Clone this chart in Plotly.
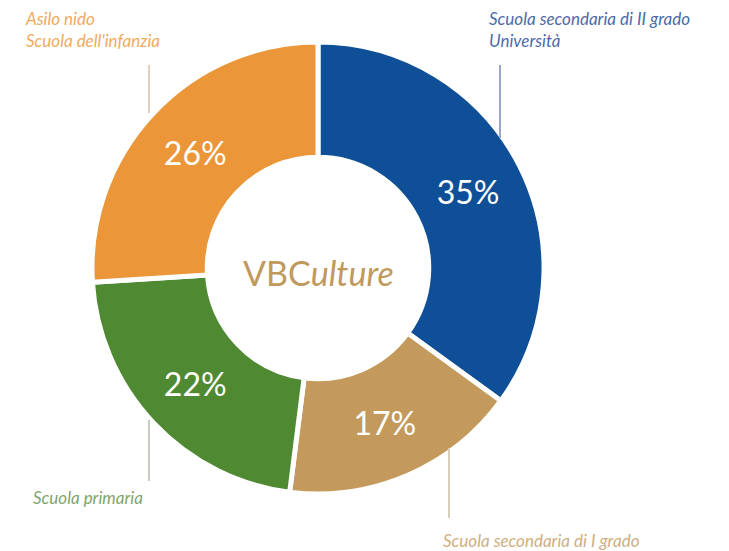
import plotly.graph_objects as go

categories = ["Scuola secondaria di II grado<br>Università",
              "Scuola secondaria di I grado",
              "Scuola primaria",
              "Asilo nido<br>Scuola dell'infanzia"]
shares = [35, 17, 22, 26]
slice_colors = ["#0f4f97", "#c39a5c", "#4f8a33", "#eb9638"]
label_colors = ["#4c6aa8", "#cfae80", "#7fa56a", "#f0aa5e"]
line_colors = ["#9aa8c8", "#d8ccbb", "#c6cbc4", "#ddd0c2"]

W, H = 729, 551
cx, cy, R = 318, 268, 226


def px(x):
    return x / W


def py(y):
    return 1 - y / H


fig = go.Figure(go.Pie(
    labels=categories,
    values=shares,
    sort=False,
    direction="clockwise",
    rotation=0,
    hole=0.49,
    marker=dict(colors=slice_colors, line=dict(color="white", width=5)),
    texttemplate="%{value}%",
    textposition="inside",
    insidetextorientation="horizontal",
    textfont=dict(family="Lato", size=32, color="white"),
    hoverinfo="label+percent",
    showlegend=False,
    domain=dict(x=[px(cx - R), px(cx + R)], y=[py(cy + R), py(cy - R)]),
))

# leader lines (x, y0, y1) in pixels
leaders = [(500, 65, 138), (449, 448, 518), (149, 420, 481), (149, 65, 113)]
for (x, y0, y1), c in zip(leaders, line_colors):
    fig.add_shape(type="line", xref="paper", yref="paper",
                  x0=px(x), x1=px(x), y0=py(y0), y1=py(y1),
                  line=dict(color=c, width=2))

# outside labels
label_pos = [(487, 30), (441, 540), (31, 497), (23, 30)]
for text, (x, y), c in zip(categories, label_pos, label_colors):
    fig.add_annotation(text="<i>" + text + "</i>", xref="paper", yref="paper",
                       x=px(x), y=py(y), xanchor="left", yanchor="middle",
                       align="left", showarrow=False,
                       font=dict(family="Lato", size=17, color=c))

fig.add_annotation(text="VBC<i>ulture</i>", xref="paper", yref="paper",
                   x=px(cx), y=py(cy + 4), xanchor="center", yanchor="middle",
                   showarrow=False,
                   font=dict(family="Lato", size=34, color="#bf9a5c"))

fig.update_layout(width=W, height=H, margin=dict(l=0, r=0, t=0, b=0),
                  paper_bgcolor="white", plot_bgcolor="white")

fig.write_html("out.html", config={"displayModeBar": False},
               post_script="document.body.style.margin='0';")
